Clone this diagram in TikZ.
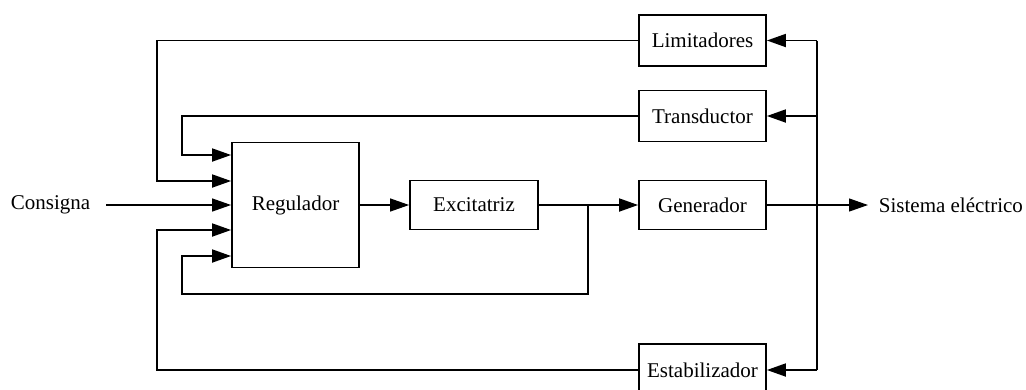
\documentclass[tikz,border=0pt]{standalone}
\usepackage{fontspec}
\setmainfont{Liberation Serif}
\usetikzlibrary{arrows.meta}
\begin{document}
\begin{tikzpicture}[x=1pt,y=-1pt, line width=1.8pt,
 blk/.style={draw, line width=1.8pt, minimum width=127pt, minimum height=51pt, inner sep=0pt, font=\fontsize{21}{25}\selectfont},
 arr/.style={-{Triangle[length=19pt,width=13pt]}},
 thin1/.style={line width=1.2pt},
 lbl/.style={font=\fontsize{21}{25}\selectfont, inner sep=0pt}]
\useasboundingbox (0,0) rectangle (1026,389);
\clip (0,0) rectangle (1026,389);
\node[blk] (lim) at (702.5,40.5) {Limitadores};
\node[blk] (tra) at (702.5,116) {Transductor};
\node[blk, minimum height=125pt] (reg) at (295.5,205) {Regulador};
\node[blk, minimum width=128pt, minimum height=49pt] (exc) at (474,205) {Excitatriz};
\node[blk, minimum height=49pt] (gen) at (702.5,205) {Generador};
\node[blk, minimum height=52pt] (est) at (702.5,370) {Estabilizador};
\node[lbl, anchor=west] (con) at (10,205) {Consigna};
\node[lbl, anchor=west] (sis) at (878,205) {Sistema eléctrico};
\coordinate (bt) at (817,40.5);
\coordinate (bb) at (817,370);
\coordinate (j) at (588,205);
% bus
\draw (bt) -- (bb);
\draw[arr] (bt) -- (lim.east);
\draw[arr] (bt |- tra.east) -- (tra.east);
\draw[arr] (bb) -- (est.east);
% forward path
\draw[arr, thin1] ([xshift=15pt]con.east) -- (reg.west);
\draw[arr, thin1] (reg.east) -- (exc.west);
\draw[arr] (exc.east) -- (gen.west);
\draw[arr, thin1] (gen.east) -- ([xshift=-10pt]sis.west);
% feedbacks
\draw[arr] (lim.west) -| (157,181) -- ([yshift=24pt]reg.west);
\draw[arr] (tra.west) -| (182,155) -- ([yshift=50pt]reg.west);
\draw[arr] (est.west) -| (157,230) -- ([yshift=-25pt]reg.west);
\draw[arr] (j) |- (182,294) -- (182,256) -- ([yshift=-51pt]reg.west);
\end{tikzpicture}
\end{document}
